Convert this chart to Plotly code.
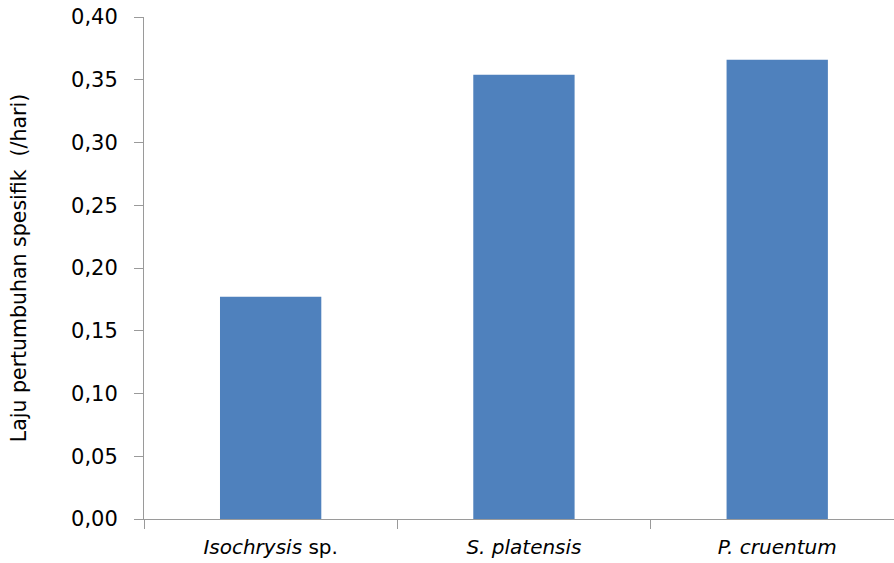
import plotly.graph_objects as go

categories = ["<i>Isochrysis</i> sp.", "<i>S. platensis</i>", "<i>P. cruentum</i>"]
values = [0.177, 0.354, 0.366]
y_ticks = [0.00, 0.05, 0.10, 0.15, 0.20, 0.25, 0.30, 0.35, 0.40]
y_tick_labels = ["0,00", "0,05", "0,10", "0,15", "0,20", "0,25", "0,30", "0,35", "0,40"]

font_family = "DejaVu Sans"

fig = go.Figure(go.Bar(
    x=categories,
    y=values,
    width=0.4,
    marker=dict(color="#4F81BD", line=dict(width=0)),
))

fig.update_layout(
    width=894,
    height=563,
    margin=dict(l=144, r=0, t=17, b=44),
    paper_bgcolor="white",
    plot_bgcolor="white",
    showlegend=False,
    font=dict(family=font_family, size=20, color="#000000"),
)

fig.update_xaxes(
    type="category",
    range=[-0.5, 2.461],
    showline=True,
    linecolor="#9A9A9A",
    linewidth=1,
    ticks="outside",
    tickson="boundaries",
    ticklen=9,
    tickcolor="#9A9A9A",
    showgrid=False,
    tickfont=dict(family=font_family, size=20),
    ticklabelstandoff=10,
    ticklabeloverflow="allow",
    automargin=False,
)

fig.update_yaxes(
    range=[0, 0.40],
    tickvals=y_ticks,
    ticktext=y_tick_labels,
    showline=True,
    linecolor="#9A9A9A",
    linewidth=1,
    ticks="outside",
    ticklen=9,
    tickcolor="#9A9A9A",
    showgrid=False,
    zeroline=False,
    tickfont=dict(family=font_family, size=21),
    ticklabelstandoff=12,
    ticklabeloverflow="allow",
    automargin=False,
    title=dict(text="Laju pertumbuhan spesifik  (/hari)", font=dict(family=font_family, size=20.5), standoff=38),
)

fig.write_html(
    "out.html",
    config={"displayModeBar": False},
    post_script="document.body.style.margin='0';",
)
